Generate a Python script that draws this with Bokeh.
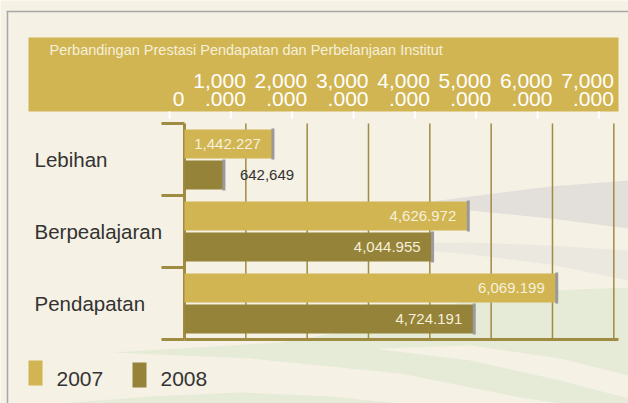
import numpy as np
from bokeh.plotting import figure
from bokeh.models import Range1d
from bokeh.core.properties import value
from bokeh.embed import file_html
from bokeh.resources import INLINE

# ---------------- data ----------------
categories = ["Lebihan", "Berpealajaran", "Pendapatan"]          # top to bottom
years = ["2007", "2008"]
values_2007 = [1442.227, 4626.972, 6069.199]
values_2008 = [642.649, 4044.955, 4724.191]
labels_2007 = ["1,442.227", "4,626.972", "6,069.199"]
labels_2008 = ["642,649", "4,044.955", "4,724.191"]
tick_values = [0, 1000, 2000, 3000, 4000, 5000, 6000, 7000]
tick_labels_top = ["", "1,000", "2,000", "3,000", "4,000", "5,000", "6,000", "7,000"]
tick_labels_bottom = ["0", ".000", ".000", ".000", ".000", ".000", ".000", ".000"]
title_text = "Perbandingan Prestasi Pendapatan dan Perbelanjaan Institut"

# ---------------- style / layout ----------------
W, H = 628, 403
BG = "#F5F1E4"
GOLD = "#D1B552"
OLIVE = "#958339"
LINE = "#A08B42"
CAP = "#9A9A9A"
TXT = "#333333"
LIGHT_TXT = "#F6F0DA"
FONT = value("Liberation Sans")
series_colors = [GOLD, OLIVE]

X0 = 184.0                 # px of value 0
PX_PER_UNIT = 61.33 / 1000.0
ROW = 72.0                 # px per category band
PLOT_BOTTOM = 339.0        # px of plot bottom


def xd(cx):
    return (cx - X0) / PX_PER_UNIT


def yd(cy):
    return (PLOT_BOTTOM - cy) / ROW


def poly(pts):
    return [xd(a) for a, b in pts], [yd(b) for a, b in pts]


p = figure(width=W, height=H, x_range=Range1d(xd(0), xd(W)), y_range=Range1d(yd(H), yd(0)),
           output_backend="svg", toolbar_location=None, min_border=0,
           x_axis_type=None, y_axis_type=None,
           background_fill_color=BG, border_fill_color=BG, outline_line_color=None)
p.grid.visible = False

# ---- background swooshes (decoration) ----
def smooth(pts, k=40):
    pts = np.array(pts, dtype=float)
    out = []
    for i in range(len(pts) - 1):
        a, b = pts[i], pts[i + 1]
        for s in np.linspace(0, 1, k, endpoint=False):
            out.append(a + (b - a) * s)
    out.append(pts[-1])
    return out

def swoosh(top, bottom, color):
    pts = smooth(top) + smooth(bottom)
    xs, ys = poly(pts)
    p.patch(xs, ys, color=color, line_color=None)

swoosh([(400, 205), (470, 196), (550, 186), (628, 180)],
       [(628, 228), (550, 218), (470, 210), (400, 205)], "#E3E0DC")
swoosh([(360, 243), (470, 242), (550, 245), (628, 250)],
       [(628, 280), (550, 264), (470, 254), (360, 244)], "#EBE8DF")
swoosh([(112, 352), (280, 342), (400, 322), (470, 298), (550, 290), (628, 287)],
       [(628, 403), (560, 403), (520, 397), (400, 373), (250, 358), (112, 352)], "#E5EBD6")
swoosh([(380, 348), (470, 345), (560, 358), (628, 375)],
       [(628, 398), (560, 380), (470, 360), (380, 349)], BG)
swoosh([(60, 403), (150, 396), (240, 392), (330, 396), (400, 403)],
       [(400, 403), (60, 403)], "#E5EBD6")

# outer frame lines
p.segment(x0=[xd(6), xd(7)], y0=[yd(11), yd(11)], x1=[xd(W), xd(7)], y1=[yd(11), yd(H)],
          line_color="#A8A8A8", line_width=1.5)

# title band
p.quad(left=[xd(28)], right=[xd(618)], top=[yd(37)], bottom=[yd(111)], color=GOLD, line_color=None)
p.text(x=[xd(49)], y=[yd(49)], text=[title_text], text_font=FONT, text_font_size="14.5px",
       text_color=LIGHT_TXT, text_baseline="middle", text_align="left")
p.text(x=tick_values, y=[yd(80)] * len(tick_values), text=tick_labels_top, text_font=FONT,
       text_font_size="21px", text_color="#FFFFFF", text_baseline="middle", text_align="right")
p.text(x=tick_values, y=[yd(98)] * len(tick_values), text=tick_labels_bottom, text_font=FONT,
       text_font_size="21px", text_color="#FFFFFF", text_baseline="middle", text_align="right")
shift = 15 / PX_PER_UNIT
p.segment(x0=[v - shift for v in tick_values], x1=[v - shift for v in tick_values],
          y0=[yd(111)] * len(tick_values), y1=[yd(118)] * len(tick_values),
          line_color="#FFFFFF", line_width=2)

n = len(categories)
# gridlines
grid_ticks = tick_values[1:]
p.segment(x0=grid_ticks, x1=grid_ticks, y0=[0] * len(grid_ticks), y1=[n] * len(grid_ticks),
          line_color=LINE, line_width=1.5)
# bracket
p.segment(x0=[0], x1=[0], y0=[0], y1=[n], line_color=LINE, line_width=3)
bounds = list(range(n + 1))
p.segment(x0=[xd(161)] * len(bounds), x1=[0] * len(bounds), y0=bounds, y1=bounds,
          line_color=LINE, line_width=3)
p.segment(x0=[0], x1=[xd(618)], y0=[0], y1=[0], line_color=LINE, line_width=3)

# bars
centers = [n - 1 - i + 0.5 for i in range(n)]
OFF = 0.215
BAR_H = 0.40
for vals, labs, sign, col in [(values_2007, labels_2007, 1, GOLD), (values_2008, labels_2008, -1, OLIVE)]:
    ys = [c + sign * OFF for c in centers]
    p.hbar(y=ys, left=0, right=vals, height=BAR_H, color=col, line_color=None)
    p.rect(x=vals, y=ys, width=3, width_units="screen", height=BAR_H + 0.03, color=CAP, line_color=None)
    inside = [v >= 1000 for v in vals]
    for v, y, lab, ins in zip(vals, ys, labs, inside):
        if ins:
            p.text(x=[v], y=[y], text=[lab], text_font=FONT, text_font_size="15px",
                   text_color=LIGHT_TXT, text_baseline="middle", text_align="right", x_offset=-12)
        else:
            p.text(x=[v], y=[y], text=[lab], text_font=FONT, text_font_size="15px",
                   text_color=TXT, text_baseline="middle", text_align="left", x_offset=16)

# category labels
p.text(x=[xd(34)] * n, y=centers, text=categories, text_font=FONT, text_font_size="20.5px",
       text_color=TXT, text_baseline="middle", text_align="left")

# legend
leg_x = [28, 132]
leg_y = [372.5, 374.5]
for yr, col, lx, ly in zip(years, series_colors, leg_x, leg_y):
    p.quad(left=[xd(lx)], right=[xd(lx + 14)], top=[yd(ly - 12.5)], bottom=[yd(ly + 12.5)],
           color=col, line_color=None)
    p.text(x=[xd(lx + 28)], y=[yd(378)], text=[yr], text_font=FONT, text_font_size="21px",
           text_color=TXT, text_baseline="middle", text_align="left")

open("out.html", "w").write(file_html(p, INLINE))
